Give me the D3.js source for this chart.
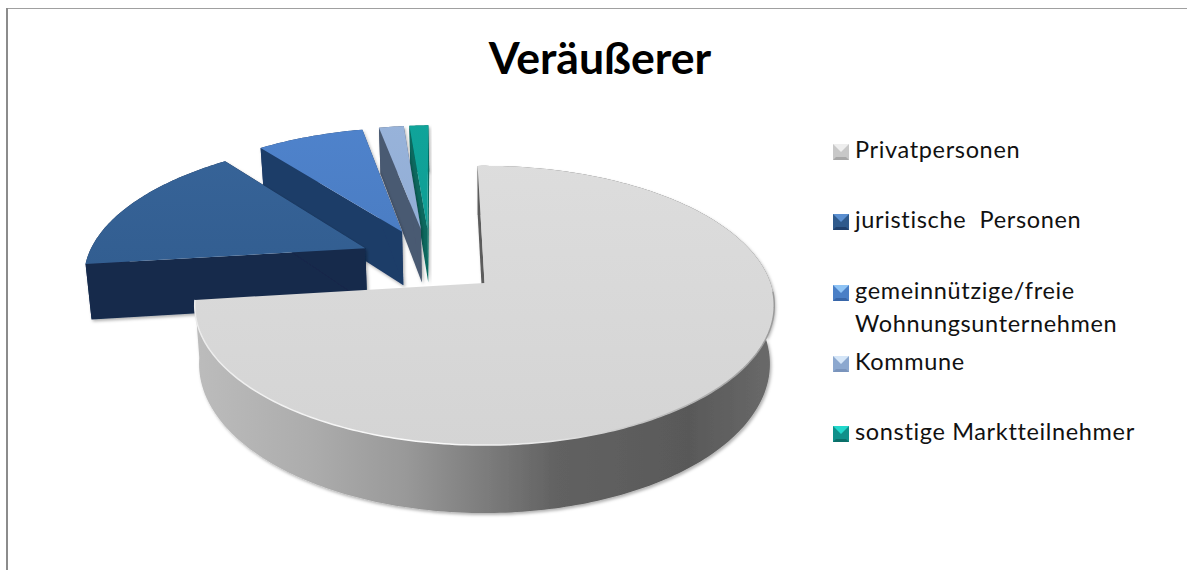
<!DOCTYPE html>
<html lang="de"><head><meta charset="utf-8">
<script src="https://cdn.jsdelivr.net/npm/d3@7"></script>
<style>html,body{margin:0;background:#fff}svg{display:block}text{font-family:Lato,"Open Sans",sans-serif;fill:#111}</style>
</head><body><svg id="c" width="1187" height="570"></svg>
<script>
const title = "Veräußerer";
const categories = ["Privatpersonen","juristische  Personen","gemeinnützige/freie\nWohnungsunternehmen","Kommune","sonstige Marktteilnehmer"];
const values = [73.5,16.2,7.3,1.7,1.3];
const topLight = ["#dedede","#38659a","#4f83cc","#98b3da","#10a49a"];
const topDark  = ["#d4d4d4","#2b5585","#4272b4","#85a3cd","#0c928a"];
const wallColor = ["#5c5c5c","#13294b","#1f3c68","#4a5a72","#07695f"];
const legendTop = ["#eeeeee","#5b8fd0","#8fc4f5","#d5e6f8","#22d8cc"];
const legendBase = ["#c8c8c8","#2f5a8c","#4a7fc6","#8ca8cf","#10908a"];
const legendBottom = ["#a8a8a8","#20406c","#3866a8","#7a94bc","#0b6f69"];
const legendBaselines = [158,228,299,370,440];

const svg = d3.select("#c");
const W=1187,H=570;
const cx=484.5, cy=283, R=286, ry=136, persp=0.161, T=57, shrink=0.985, explode=0.258, startDeg=-1.6;

const defs = svg.append("defs");
const filt = defs.append("filter").attr("id","sh").attr("x","-10%").attr("y","-10%").attr("width","120%").attr("height","125%");
filt.append("feDropShadow").attr("dx",1.5).attr("dy",2).attr("stdDeviation",1.6).attr("flood-color","#000").attr("flood-opacity",.3);

const gr = (id,stops,x1,x2,y1=0,y2=0)=>{
  const g=defs.append("linearGradient").attr("id",id).attr("gradientUnits","userSpaceOnUse")
    .attr("x1",x1).attr("x2",x2).attr("y1",y1).attr("y2",y2);
  stops.forEach(([o,c])=>g.append("stop").attr("offset",o).attr("stop-color",c));
};
gr("wall0",[[0,"#bcbcbc"],[.2,"#acacac"],[.36,"#999"],[.5,"#7c7c7c"],[.62,"#626262"],[.85,"#595959"],[1,"#6a6a6a"]],196,776);
gr("rim0",[[0,"#ececec"],[.4,"#fbfbfb"],[.6,"#e8e8e8"],[.82,"#b8b8b8"],[1,"#9a9a9a"]],196,776);
values.forEach((_,i)=>gr("top"+i,[[0,topLight[i]],[1,topDark[i]]],0,0,120,450));

// projection of a flat disc seen in perspective
const project=(u,v,low)=>{
  const s=1/(1-persp*v);
  let x=R*u*s, y=ry*v*s;
  if(low){x*=shrink;y+=T*s;}
  return [cx+x,cy+y];
};
const line=d3.line();
const pie=d3.pie().sort(null).value(d=>d)
  .startAngle(startDeg*Math.PI/180).endAngle((startDeg+360)*Math.PI/180);
const arcs=pie(values);
const mainMid=(arcs[0].startAngle+arcs[0].endAngle)/2;
const off=[-explode*Math.sin(mainMid), explode*Math.cos(mainMid)];

const slices=arcs.map((a,i)=>{
  const mid=(a.startAngle+a.endAngle)/2;
  const ou=off[0]+explode*Math.sin(mid), ov=off[1]-explode*Math.cos(mid);
  const n=Math.max(8,Math.ceil((a.endAngle-a.startAngle)*60));
  const rim=d3.range(n+1).map(k=>{
    const t=a.startAngle+(a.endAngle-a.startAngle)*k/n;
    return [ou+Math.sin(t),ov-Math.cos(t)];
  });
  return {i,ou,ov,rim,a};
});

const P=(pts,low)=>pts.map(p=>project(p[0],p[1],low));
// painter's order: far slices first, largest (front) last
const order=[4,3,2,1,0];
order.forEach(i=>{
  const s=slices[i], g=svg.append("g").attr("class","slice");
  const apex=[s.ou,s.ov], first=s.rim[0], last=s.rim[s.rim.length-1];
  const wall=i===0?"url(#wall0)":wallColor[i];
  const walls=g.append("g").attr("filter","url(#sh)");
  walls.append("path").attr("d",line([...P(s.rim,false),...P(s.rim,true).reverse()])+"Z").attr("fill",wall);
  (i===0?[[apex,first]]:[[apex,first],[apex,last]]).forEach(e=>{
    walls.append("path").attr("d",line([...P(e,false),...P(e,true).reverse()])+"Z").attr("fill",wallColor[i]);
  });
  g.append("path").attr("d",line([project(apex[0],apex[1],false),...P(s.rim,false)])+"Z").attr("fill",`url(#top${i})`);
  if(i===0){
    const front=s.rim.filter(p=>p[1]>0.05);
    g.append("path").attr("d",line(P(front,false))).attr("fill","none").attr("stroke","url(#rim0)").attr("stroke-width",1.5);
  }
});

// frame
svg.append("line").attr("x1",6).attr("x2",W).attr("y1",8.5).attr("y2",8.5).attr("stroke","#a0a0a0");
svg.append("line").attr("x1",7).attr("x2",7).attr("y1",8).attr("y2",H).attr("stroke","#8c8c8c").attr("stroke-width",2);

svg.append("text").attr("x",600).attr("y",74).attr("text-anchor","middle")
  .attr("font-size",44.6).attr("font-weight",700).style("fill","#000").text(title);

// legend
const swX=833, sw=16, txtX=855;
categories.forEach((c,i)=>{
  const by=legendBaselines[i], t=by-14, g=svg.append("g");
  const m=[swX+sw/2,t+sw/2], a=[swX,t], b=[swX+sw,t], d=[swX+sw,t+sw], e=[swX,t+sw];
  g.append("rect").attr("x",swX).attr("y",t).attr("width",sw).attr("height",sw).attr("fill",legendBase[i]);
  g.append("path").attr("d",line([a,b,m])+"Z").attr("fill",legendTop[i]);
  g.append("path").attr("d",line([e,d,[swX+sw-3,t+sw-3],[swX+3,t+sw-3]])+"Z").attr("fill",legendBottom[i]);
  c.split("\n").forEach((l,k)=>{
    g.append("text").attr("x",txtX).attr("y",by+k*33).attr("font-size",23.5)
      .attr("letter-spacing",.65).style("white-space","pre").text(l);
  });
});
</script></body></html>
